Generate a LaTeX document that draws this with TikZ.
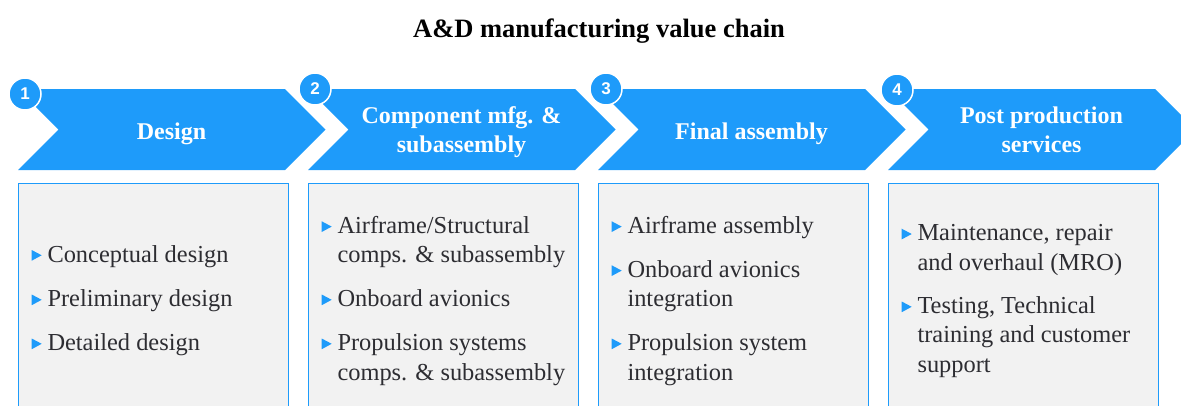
\documentclass[tikz,border=0pt]{standalone}
\usepackage{fontspec}
\setmainfont{Liberation Serif}
\newfontfamily\numfont{Liberation Sans}
\definecolor{cblue}{RGB}{30,155,250}
\definecolor{boxgray}{RGB}{242,242,242}
\definecolor{txtgray}{RGB}{45,45,50}
\newcommand\mybul[4]{%
  \fill[bul] ({#2-15.6},{#3-12}) -- ({#2-5.6},{#3-6.7}) -- ({#2-15.6},{#3-1.3}) -- cycle;
  \node[itemtext] (#1) at (#2,#3) {#4};}
\newcommand\mycont[4]{\node[itemtext] (#1) at (#2,#3) {#4};}
\begin{document}
\begin{tikzpicture}[x=1pt,y=-1pt,
  chev/.style={fill=cblue, draw=none},
  card/.style={fill=boxgray, draw=cblue, line width=1pt},
  badge/.style={circle, fill=cblue, draw=white, line width=1.5pt, minimum size=32pt, inner sep=0pt, text=white, font=\numfont\bfseries\fontsize{17}{17}\selectfont},
  head/.style={anchor=base, inner sep=0pt, text=white, font=\rmfamily\bfseries\fontsize{24}{29}\selectfont},
  itemtext/.style={anchor=base west, inner sep=0pt, text=txtgray, font=\rmfamily\fontsize{24.4}{29}\selectfont},
  bul/.style={fill=cblue}]
\useasboundingbox (0,0) rectangle (1181,405);
\clip (0,0) rectangle (1181,405);
\node[anchor=base, inner sep=0pt, font=\rmfamily\bfseries\fontsize{26.5}{30}\selectfont] (title) at (599,37) {A\&D manufacturing value chain};
% chevrons and cards
\foreach \i in {0,...,3}{
  \fill[chev] ({18+290*\i},89) -- ++(267,0) -- ++(40.5,40.5) -- ++(-40.5,40.5) -- ++(-267,0) -- ++(40.5,-40.5) -- cycle;
  \draw[card] ({18+290*\i},183) rectangle ++(270,240);
}
% headings
\node[head] (h1) at (171.5,139) {Design};
\node[head] (h2a) at (461.5,123.5) {Component mfg. \&};
\node[head] (h2b) at (461.5,152) {subassembly};
\node[head] (h3) at (751.5,139) {Final assembly};
\node[head] (h4a) at (1041.5,123.5) {Post production};
\node[head] (h4b) at (1041.5,152) {services};
% box 1
\mybul{a1}{47.3}{262}{Conceptual design}
\mybul{a2}{47.3}{306.5}{Preliminary design}
\mybul{a3}{47.3}{350.5}{Detailed design}
% box 2
\mybul{b1}{337.3}{233.3}{Airframe/Structural}
\mycont{b1c}{337.3}{262.6}{comps. \& subassembly}
\mybul{b2}{337.3}{306.5}{Onboard avionics}
\mybul{b3}{337.3}{350.5}{Propulsion systems}
\mycont{b3c}{337.3}{380}{comps. \& subassembly}
% box 3
\mybul{c1}{627.3}{233.3}{Airframe assembly}
\mybul{c2}{627.3}{277.3}{Onboard avionics}
\mycont{c2c}{627.3}{306.5}{integration}
\mybul{c3}{627.3}{350.5}{Propulsion system}
\mycont{c3c}{627.3}{380}{integration}
% box 4
\mybul{d1}{917.3}{240.7}{Maintenance, repair}
\mycont{d1c}{917.3}{270}{and overhaul (MRO)}
\mybul{d2}{917.3}{313.5}{Testing, Technical}
\mycont{d2c}{917.3}{342.8}{training and customer}
\mycont{d2d}{917.3}{372}{support}
% badges
\node[badge] (n1) at (25,94) {1};
\node[badge] (n2) at (315,89) {2};
\node[badge] (n3) at (606,89) {3};
\node[badge] (n4) at (897,90) {4};
\end{tikzpicture}
\end{document}
